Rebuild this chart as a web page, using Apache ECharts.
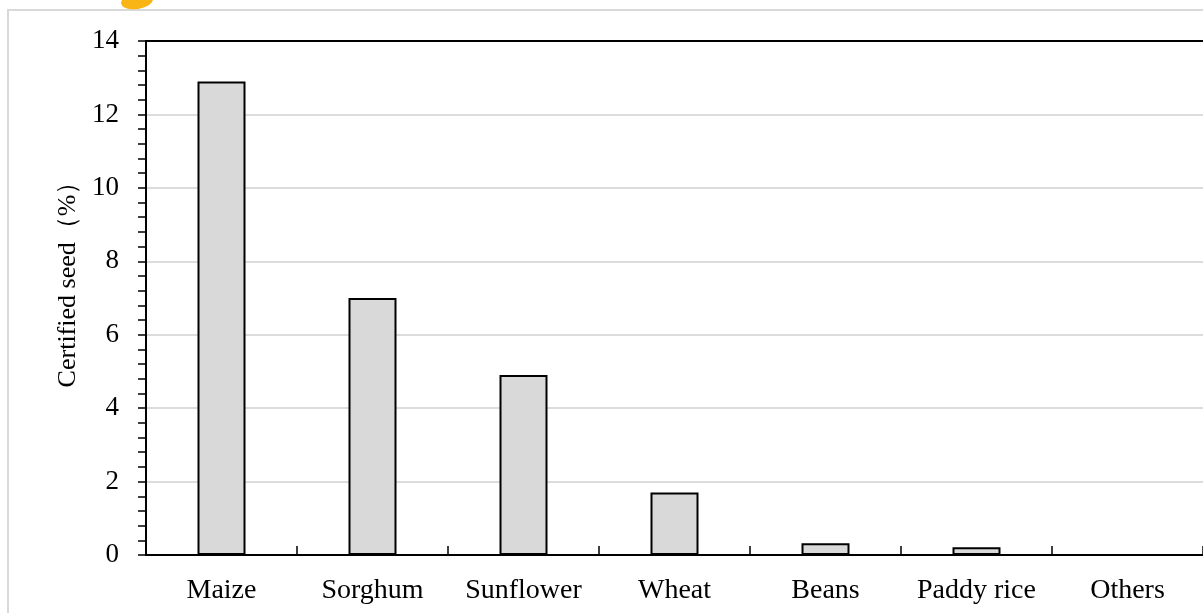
<!DOCTYPE html>
<html>
<head>
<meta charset="utf-8">
<title>Certified seed by crop</title>
<script src="https://cdn.jsdelivr.net/npm/echarts@6/dist/echarts.min.js"></script>
<style>
  html, body { margin: 0; padding: 0; background: #fff; }
  #chart { width: 1203px; height: 613px; }
</style>
</head>
<body>
<div id="chart"></div>
<script>
// Crops and share of certified seed (%)
const crops = ['Maize', 'Sorghum', 'Sunflower', 'Wheat', 'Beans', 'Paddy rice', 'Others'];
const certifiedSeed = [12.9, 7.0, 4.9, 1.7, 0.32, 0.21, 0];
const yAxisTitle = 'Certified seed（%）';

const serif = '"Liberation Serif", "Times New Roman", serif';

const chart = echarts.init(document.getElementById('chart'));
chart.setOption({
  animation: false,
  backgroundColor: '#fff',
  grid: { left: 146, top: 41, bottom: 58, right: -6 },
  graphic: [
    {
      type: 'rect',
      shape: { x: 8, y: 10, width: 1210, height: 620 },
      style: { fill: 'none', stroke: '#d9d9d9', lineWidth: 2 },
      z: -1
    },
    {
      type: 'ellipse',
      shape: { cx: 137, cy: 1, rx: 16, ry: 8 },
      rotation: 0.15,
      originX: 137, originY: 1,
      style: { fill: '#f8b515' }
    }
  ],
  xAxis: [
    {
      type: 'category',
      data: crops,
      axisLine: { lineStyle: { color: '#000', width: 2 } },
      axisTick: { show: true, inside: true, interval: 0, length: 9, lineStyle: { color: '#000', width: 1.5 } },
      axisLabel: { color: '#000', fontFamily: serif, fontSize: 28, margin: 22, interval: 0, hideOverlap: false },
      splitLine: { show: false }
    },
    {
      type: 'category',
      position: 'top',
      data: crops,
      axisLine: { lineStyle: { color: '#000', width: 2 } },
      axisTick: { show: false },
      axisLabel: { show: false }
    }
  ],
  yAxis: {
    type: 'value',
    min: 0,
    max: 14,
    interval: 2,
    name: yAxisTitle,
    nameLocation: 'middle',
    nameRotate: 90,
    nameGap: 64,
    nameTextStyle: { color: '#000', fontFamily: serif, fontSize: 26, padding: [0, 0, 0, 40] },
    axisLine: { show: true, lineStyle: { color: '#000', width: 2 } },
    axisTick: { show: true, length: 8, lineStyle: { color: '#000', width: 1.5 } },
    minorTick: { show: true, splitNumber: 5, length: 8, lineStyle: { color: '#000', width: 1.5 } },
    axisLabel: { color: '#000', fontFamily: serif, fontSize: 27, margin: 27 },
    splitLine: { show: true, lineStyle: { color: '#dcdcdc', width: 2 } }
  },
  series: [
    {
      type: 'bar',
      data: certifiedSeed,
      barWidth: 48,
      itemStyle: { color: '#d9d9d9', borderColor: '#000', borderWidth: 2 }
    }
  ]
});
</script>
</body>
</html>
